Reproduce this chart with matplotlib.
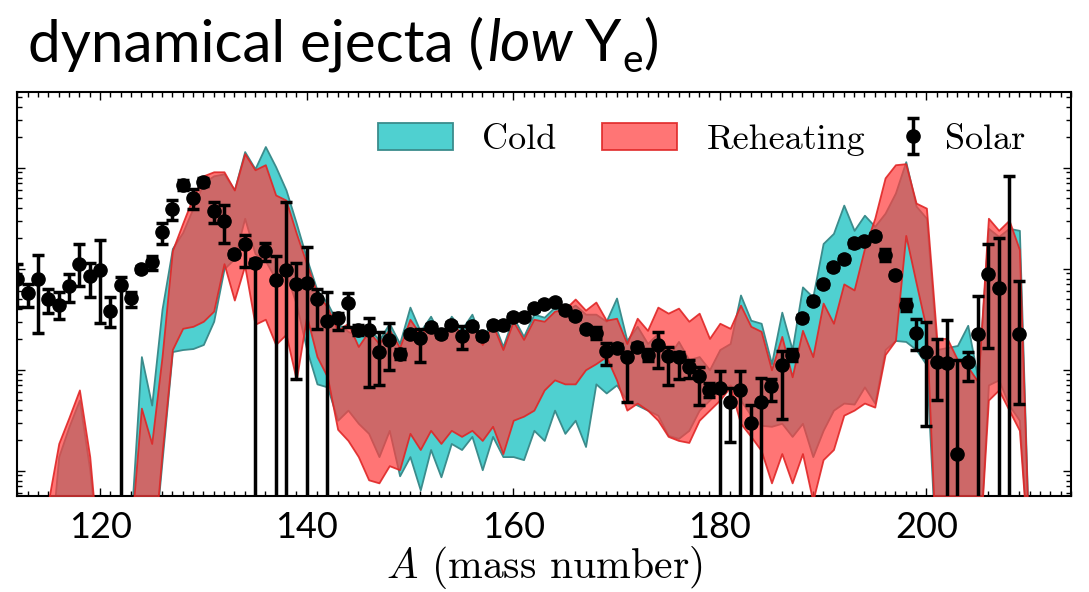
import numpy as np
import matplotlib
matplotlib.use("Agg")
import matplotlib.pyplot as plt
from matplotlib.ticker import MultipleLocator, LogLocator, NullFormatter
from matplotlib.transforms import IdentityTransform

plt.rcParams["mathtext.fontset"] = "cm"

# mass numbers
band_A = np.arange(112, 211)
solar_A = np.arange(112, 210)

# band edges, log10 of abundance (values below -3.25 are off the plot)
cold_hi = [-4, -4, -4, -4, -2.86, -2.56, -2.30, -2.99, -4, -4,
           -4, -3.5, -1.87, -2.35, -1.40, -0.80, -0.64, -0.40, -0.15, -0.08,
           -0.06, -0.22, 0.16, -0.01, 0.21, 0.01, -0.22, -0.55, -0.90, -1.21,
           -1.34, -1.54, -1.62, -1.67, -1.57, -1.71, -1.54, -1.74, -1.38, -1.62,
           -1.47, -1.67, -1.47, -1.60, -1.45, -1.72, -1.50, -1.77, -1.48, -1.67,
           -1.45, -1.48, -1.38, -1.42, -1.36, -1.45, -1.45, -1.52, -1.29, -1.71,
           -1.57, -1.74, -1.64, -1.87, -1.72, -1.90, -1.87, -2.00, -1.80, -1.74,
           -1.26, -1.51, -1.54, -1.94, -1.43, -1.80, -1.18, -1.28, -0.75, -0.65,
           -0.37, -0.62, -0.47, -0.58, -0.45, -0.25, 0.06, -0.38, -0.50, -1.80,
           -1.78, -1.76, -1.56, -2.10, -0.60, -0.68, -0.60, -0.62, -4]
cold_lo = [-4, -4, -4, -4, -4, -4, -4, -4, -4, -4,
           -4, -4, -4, -4, -2.90, -1.82, -1.80, -1.79, -1.75, -1.52,
           -1.00, -0.90, -0.50, -0.85, -0.92, -1.10, -1.05, -1.35, -1.80, -2.14,
           -2.17, -2.50, -2.40, -2.53, -2.63, -2.86, -2.60, -3.05, -2.86, -3.19,
           -2.79, -3.06, -2.73, -2.79, -2.66, -2.99, -2.66, -2.86, -2.86, -2.89,
           -2.60, -2.70, -2.40, -2.63, -2.50, -2.76, -2.14, -2.23, -2.15, -2.30,
           -2.35, -2.40, -2.45, -2.65, -2.68, -2.60, -2.40, -2.30, -2.20, -2.15,
           -2.30, -2.45, -2.55, -2.56, -2.53, -2.66, -2.53, -2.86, -2.60, -2.40,
           -2.33, -2.34, -2.17, -2.33, -1.80, -1.71, -1.72, -1.80, -1.95, -4,
           -4, -4, -4, -4, -2.15, -2.10, -2.35, -2.50, -4]
reh_hi = [-4, -4, -4, -3.3, -2.73, -2.47, -2.20, -2.86, -4, -4,
          -4, -3.6, -2.38, -2.73, -1.87, -0.82, -0.55, -0.29, -0.08, -0.04,
          -0.04, -0.22, 0.14, -0.02, 0.03, -0.27, -0.32, -0.65, -0.95, -1.24,
          -1.38, -1.61, -1.54, -1.77, -1.62, -1.74, -1.60, -1.78, -1.50, -1.65,
          -1.55, -1.70, -1.52, -1.65, -1.53, -1.75, -1.55, -1.80, -1.52, -1.70,
          -1.50, -1.52, -1.42, -1.40, -1.30, -1.41, -1.33, -1.51, -1.49, -1.74,
          -1.49, -1.61, -1.38, -1.44, -1.39, -1.52, -1.44, -1.69, -1.54, -1.59,
          -1.36, -1.57, -1.62, -2.00, -1.67, -2.07, -1.61, -1.87, -1.34, -1.54,
          -1.15, -1.21, -0.80, -0.50, -0.10, 0.03, 0.04, -0.35, -0.40, -1.69,
          -1.69, -1.90, -1.97, -2.12, -0.50, -0.62, -0.52, -0.81, -4]
reh_lo = [-4, -4, -4, -4, -4, -4, -4, -4, -4, -4,
          -4, -4, -4, -4, -2.83, -1.80, -1.59, -1.57, -1.52, -1.42,
          -0.95, -1.31, -0.97, -1.55, -1.50, -1.75, -1.65, -2.10, -1.47, -1.87,
          -2.07, -2.59, -2.70, -2.86, -3.09, -3.12, -2.95, -2.99, -2.63, -2.79,
          -2.60, -2.73, -2.60, -2.66, -2.60, -2.70, -2.56, -2.83, -2.50, -2.46,
          -2.40, -2.20, -2.10, -2.14, -2.14, -2.00, -1.94, -1.87, -2.10, -2.40,
          -2.33, -2.40, -2.50, -2.66, -2.70, -2.72, -2.50, -2.40, -2.30, -2.17,
          -2.53, -2.66, -2.80, -3.12, -2.83, -3.12, -2.83, -3.30, -2.89, -2.79,
          -2.45, -2.40, -2.33, -2.37, -1.85, -1.71, -0.67, -1.14, -1.60, -4,
          -4, -4, -4, -4, -2.30, -2.20, -2.40, -2.60, -4]

# solar abundances (log10) with upper / lower ends of the error bars
solar_log = [-1.10, -1.24, -1.10, -1.30, -1.36, -1.17, -0.95, -1.07, -1.01, -1.42,
             -1.16, -1.29, -1.00, -0.93, -0.64, -0.41, -0.17, -0.30, -0.14, -0.43,
             -0.53, -0.85, -0.76, -0.94, -0.82, -1.11, -1.01, -1.15, -1.14, -1.30,
             -1.52, -1.49, -1.34, -1.61, -1.61, -1.82, -1.71, -1.84, -1.65, -1.69,
             -1.58, -1.65, -1.56, -1.67, -1.57, -1.67, -1.56, -1.56, -1.48, -1.48,
             -1.39, -1.35, -1.33, -1.41, -1.47, -1.60, -1.64, -1.81, -1.78, -1.87,
             -1.77, -1.85, -1.76, -1.86, -1.87, -1.97, -2.06, -2.20, -2.18, -2.32,
             -2.20, -2.53, -2.32, -2.16, -1.95, -1.85, -1.49, -1.32, -1.15, -0.98,
             -0.90, -0.75, -0.73, -0.68, -0.86, -1.06, -1.36, -1.64, -1.82, -1.92,
             -1.93, -2.83, -1.92, -1.65, -1.05, -1.19, -3.60, -1.65]
solar_up = [-0.95, -1.15, -0.86, -1.20, -1.23, -1.05, -0.76, -0.94, -0.72, -1.28,
            -1.08, -1.23, -0.97, -0.87, -0.55, -0.32, -0.12, -0.21, -0.10, -0.34,
            -0.37, -0.82, -0.67, -0.90, -0.75, -0.87, -0.34, -0.94, -0.78, -1.20,
            -1.23, -1.44, -1.24, -1.56, -1.49, -1.63, -1.54, -1.79, -1.62, -1.60,
            -1.55, -1.62, -1.53, -1.57, -1.54, -1.64, -1.53, -1.53, -1.45, -1.45,
            -1.36, -1.32, -1.30, -1.38, -1.44, -1.57, -1.58, -1.74, -1.75, -1.82,
            -1.74, -1.79, -1.63, -1.77, -1.82, -1.90, -1.97, -2.13, -2.01, -2.18,
            -2.01, -2.35, -2.08, -2.09, -1.81, -1.79, -1.46, -1.29, -1.12, -0.95,
            -0.87, -0.72, -0.70, -0.65, -0.80, -1.03, -1.30, -1.50, -1.53, -1.70,
            -1.51, -1.90, -1.82, -1.27, -0.76, -0.70, -0.08, -1.12]
solar_dn = [-1.38, -1.38, -1.64, -1.44, -1.50, -1.33, -1.17, -1.28, -1.54, -1.58,
            -4, -1.38, -1.03, -1.01, -0.76, -0.52, -0.22, -0.41, -0.18, -0.55,
            -0.75, -0.88, -0.98, -4, -0.92, -4, -4, -2.09, -4, -1.60,
            -4, -1.61, -1.58, -1.66, -2.17, -2.15, -2.00, -1.89, -1.68, -1.92,
            -1.61, -1.68, -1.59, -1.79, -1.60, -1.70, -1.59, -1.60, -1.50, -1.50,
            -1.42, -1.38, -1.36, -1.44, -1.50, -1.63, -1.70, -1.95, -1.81, -2.32,
            -1.79, -1.91, -1.98, -2.15, -2.09, -2.08, -2.35, -2.27, -4, -2.72,
            -4, -4, -4, -2.31, -2.49, -1.91, -1.52, -1.35, -1.18, -1.01,
            -0.93, -0.78, -0.76, -0.71, -0.92, -1.08, -1.42, -1.80, -2.56, -2.30,
            -4, -4, -2.11, -4, -1.78, -4, -4, -2.34]

fig = plt.figure(figsize=(10.89, 5.92), dpi=100)
ax = fig.add_axes([0.016, 0.1622, 0.9675, 0.6824])

cold = ax.fill_between(band_A, 10.0 ** np.array(cold_lo), 10.0 ** np.array(cold_hi),
                       facecolor="#4fd0d0", edgecolor="#3b8c8c", linewidth=1.3,
                       label="Cold", zorder=2)
reh = ax.fill_between(band_A, 10.0 ** np.array(reh_lo), 10.0 ** np.array(reh_hi),
                      facecolor=(1.0, 0.25, 0.25, 0.72), edgecolor=(0.88, 0.15, 0.15, 0.9),
                      linewidth=1.3, label="Reheating", zorder=3)

sy = 10.0 ** np.array(solar_log)
yerr = [sy - 10.0 ** np.array(solar_dn), 10.0 ** np.array(solar_up) - sy]
sol = ax.errorbar(solar_A, sy, yerr=yerr, fmt="o", color="black", ms=9.5,
                  elinewidth=2.5, capsize=4.5, capthick=2.5, label="Solar", zorder=4)

ax.set_yscale("log")
ax.set_xlim(112, 214)
ax.set_ylim(10 ** -3.25, 10 ** 0.75)
ax.xaxis.set_major_locator(MultipleLocator(20))
ax.xaxis.set_minor_locator(MultipleLocator(1))
ax.yaxis.set_major_locator(LogLocator(base=10, numticks=20))
ax.yaxis.set_minor_locator(LogLocator(base=10, subs=np.arange(2, 10), numticks=20))
ax.yaxis.set_major_formatter(NullFormatter())
ax.yaxis.set_minor_formatter(NullFormatter())
ax.tick_params(which="both", direction="in", top=True, right=True, width=1.0)
ax.tick_params(which="major", length=6, pad=11, labelsize=26)
ax.tick_params(which="minor", length=3.5)
for lab in ax.get_xticklabels():
    lab.set_family("Lato")
for sp in ax.spines.values():
    sp.set_linewidth(1.5)

ax.set_xlabel(r"$A$ (mass number)", fontsize=30, family="cmr10",
              math_fontfamily="cm", labelpad=0)

leg1 = ax.legend(handles=[cold, reh], loc="center left", bbox_to_anchor=(0.342, 0.882),
                 ncol=2, frameon=False, prop={"family": "cmr10", "size": 26},
                 handlelength=2.07, handleheight=0.75, handletextpad=0.83,
                 columnspacing=1.25, borderpad=0, borderaxespad=0)
ax.add_artist(leg1)
ax.legend(handles=[sol], loc="center left", bbox_to_anchor=(0.833, 0.882),
          frameon=False, prop={"family": "cmr10", "size": 26},
          handlelength=1.0, handletextpad=0.39, borderpad=0, borderaxespad=0)

# title made of pieces (italic word and subscript)
fig.canvas.draw()
rend = fig.canvas.get_renderer()
x = 28
base = 592 - 61
parts = [("dynamical ejecta (", "normal", 42, 0, 0),
         ("low", "italic", 42, 0, 3),
         ("Y", "normal", 42, 0, 12),
         ("e", "normal", 28, -11, 1),
         (")", "normal", 42, 0, 1)]
for s, st, size, dy, gap in parts:
    x += gap
    t = fig.text(x, base + dy, s, fontsize=size, style=st, family="Lato",
                 va="baseline", ha="left", transform=IdentityTransform())
    x = t.get_window_extent(rend).x1

fig.savefig("out.png", dpi=100)
